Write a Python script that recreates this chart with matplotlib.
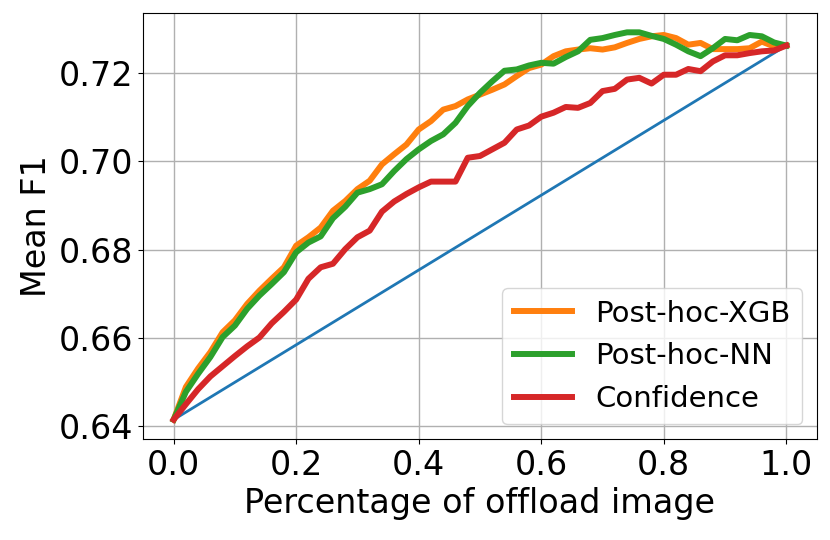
import numpy as np
import matplotlib
matplotlib.use("Agg")
import matplotlib.pyplot as plt

x = [round(0.02 * i, 2) for i in range(51)]

xgb = [0.6415, 0.6489, 0.6531, 0.6568, 0.6613, 0.6640, 0.6677, 0.6707, 0.6734, 0.6760,
       0.6809, 0.6828, 0.6850, 0.6888, 0.6910, 0.6937, 0.6956, 0.6993, 0.7016, 0.7038,
       0.7072, 0.7091, 0.7117, 0.7125, 0.7140, 0.7151, 0.7162, 0.7174, 0.7193, 0.7211,
       0.7219, 0.7238, 0.7249, 0.7253, 0.7256, 0.7253, 0.7258, 0.7268, 0.7277, 0.7283,
       0.7286, 0.7279, 0.7264, 0.7268, 0.7254, 0.7254, 0.7254, 0.7256, 0.7271, 0.7260,
       0.7262]

nn = [0.6415, 0.6478, 0.6519, 0.6557, 0.6602, 0.6628, 0.6666, 0.6696, 0.6722, 0.6749,
      0.6794, 0.6816, 0.6830, 0.6871, 0.6897, 0.6929, 0.6937, 0.6948, 0.6978, 0.7005,
      0.7027, 0.7046, 0.7061, 0.7087, 0.7125, 0.7155, 0.7181, 0.7205, 0.7208, 0.7217,
      0.7223, 0.7221, 0.7236, 0.7249, 0.7275, 0.7279, 0.7286, 0.7292, 0.7292, 0.7284,
      0.7277, 0.7264, 0.7249, 0.7238, 0.7256, 0.7277, 0.7274, 0.7286, 0.7283, 0.7269,
      0.7262]

conf = [0.6415, 0.6450, 0.6484, 0.6513, 0.6536, 0.6559, 0.6581, 0.6601, 0.6633, 0.6659,
        0.6687, 0.6734, 0.6760, 0.6768, 0.6801, 0.6828, 0.6843, 0.6886, 0.6909, 0.6926,
        0.6941, 0.6954, 0.6954, 0.6954, 0.7008, 0.7012, 0.7027, 0.7042, 0.7072, 0.7081,
        0.7101, 0.7110, 0.7123, 0.7121, 0.7132, 0.7159, 0.7164, 0.7185, 0.7189, 0.7176,
        0.7196, 0.7196, 0.7209, 0.7204, 0.7226, 0.7240, 0.7240, 0.7245, 0.7249, 0.7251,
        0.7262]

random_x = [0.0, 1.0]
random_y = [0.6415, 0.7262]

fig = plt.figure(figsize=(8.3, 5.4), dpi=100)
ax = fig.add_axes([0.1723, 0.187, 0.812, 0.789])

ax.plot(random_x, random_y, color="#1f77b4", lw=2)
ax.plot(x, xgb, color="#ff7f0e", lw=4.3, label="Post-hoc-XGB")
ax.plot(x, nn, color="#2ca02c", lw=4.3, label="Post-hoc-NN")
ax.plot(x, conf, color="#d62728", lw=4.3, label="Confidence")

ax.grid(True, color="#b0b0b0", lw=1)
ax.set_xticks([0.0, 0.2, 0.4, 0.6, 0.8, 1.0])
ax.set_yticks([0.64, 0.66, 0.68, 0.70, 0.72])
ax.tick_params(labelsize=24)
ax.set_xlabel("Percentage of offload image", fontsize=24)
ax.set_ylabel("Mean F1", fontsize=24)
ax.legend(loc="lower right", fontsize=21)

fig.savefig("out.png", dpi=100)
